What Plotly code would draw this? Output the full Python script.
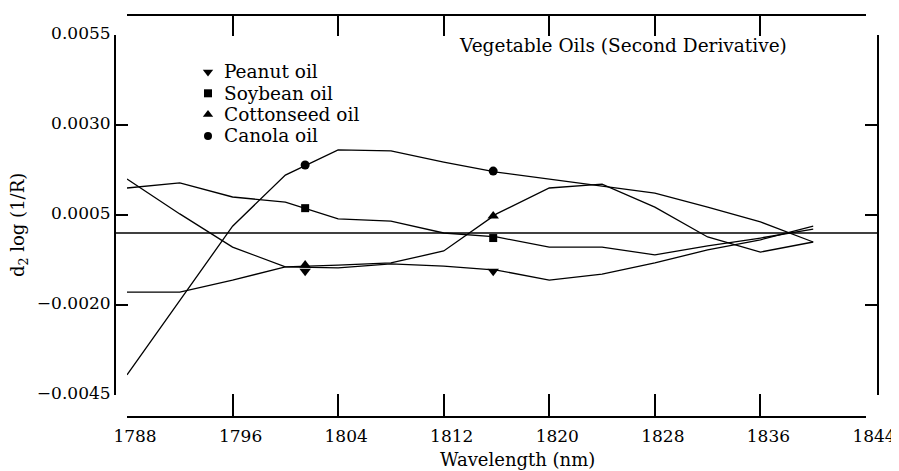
import plotly.graph_objects as go

# ---- data ----
wavelength = [1788, 1792, 1796, 1800, 1804, 1808, 1812, 1816, 1820, 1824, 1828, 1832, 1836, 1840]
peanut     = [0.00150, 0.00053, -0.00039, -0.00094, -0.00097, -0.00086, -0.00092, -0.00103, -0.00131, -0.00114, -0.00083, -0.00047, -0.00019, 0.00019]
soybean    = [0.00125, 0.00139, 0.00100, 0.00086, 0.00039, 0.00033, 0.00000, -0.00011, -0.00039, -0.00039, -0.00061, -0.00036, -0.00014, 0.00011]
cottonseed = [-0.00164, -0.00164, -0.00131, -0.00094, -0.00089, -0.00083, -0.00050, 0.00053, 0.00125, 0.00136, 0.00072, -0.00011, -0.00053, -0.00025]
canola     = [-0.00394, -0.00186, 0.00019, 0.00161, 0.00231, 0.00228, 0.00197, 0.00169, 0.00150, 0.00131, 0.00111, 0.00072, 0.00031, -0.00025]

marker_wl        = [1801.5, 1815.75]
peanut_marks     = [-0.00106, -0.00106]
soybean_marks    = [0.00069, -0.00014]
cottonseed_marks = [-0.00089, 0.00047]
canola_marks     = [0.00189, 0.00172]

legend_names   = ["Peanut oil", "Soybean oil", "Cottonseed oil", "Canola oil"]
legend_symbols = ["triangle-down", "square", "triangle-up", "circle"]

x_ticks = [1788, 1796, 1804, 1812, 1820, 1828, 1836, 1844]
y_ticks = [-0.0045, -0.0020, 0.0005, 0.0030, 0.0055]
y_tick_text = ["\u22120.0045", "\u22120.0020", "0.0005", "0.0030", "0.0055"]

title_text = "Vegetable Oils (Second Derivative)"
x_title = "Wavelength (nm)"
y_title = "d<sub>2</sub> log (1/R)"

# ---- layout geometry (screen pixels; page body adds an 8px offset) ----
OFF = 8
W, H = 899 - OFF, 471 - OFF
PL, PR, PT, PB = 115, 878, 15, 417          # paper box (screen px)
XL, XR = 127, 866                           # x-axis span
YT, YB = 35, 395                            # y-axis span
pw, ph = PR - PL, PB - PT
fx = lambda p: (p - PL) / pw
fy = lambda p: (PB - p) / ph

SERIF = "'DejaVu Serif', 'Liberation Serif', serif"
xr = [1788 - 1e-6, 1844 + 1e-6]
yr = [-0.0045 - 1e-9, 0.0055 + 1e-9]

fig = go.Figure()
line_style = dict(color="black", width=1.3)
series = [("Peanut oil", peanut, peanut_marks, "triangle-down", 10),
          ("Soybean oil", soybean, soybean_marks, "square", 8),
          ("Cottonseed oil", cottonseed, cottonseed_marks, "triangle-up", 10),
          ("Canola oil", canola, canola_marks, "circle", 9)]
for name, vals, marks, sym, sz in series:
    fig.add_trace(go.Scatter(x=wavelength, y=vals, mode="lines", line=line_style,
                             showlegend=False, hoverinfo="skip"))
    fig.add_trace(go.Scatter(x=marker_wl, y=marks, mode="markers",
                             marker=dict(symbol=sym, size=sz, color="black"),
                             showlegend=False, name=name))

# empty trace so the mirrored (top / right) frame axes get drawn
fig.add_trace(go.Scatter(x=[None], y=[None], xaxis="x2", yaxis="y2",
                         showlegend=False, hoverinfo="skip"))

# custom legend on an overlay paper-like axis
leg_x_marker = fx(208)
leg_x_text = fx(222)
leg_y0, leg_dy = 72, 21.3
sizes = {"triangle-down": 9, "square": 8, "triangle-up": 9, "circle": 8}
for i, (nm, sym) in enumerate(zip(legend_names, legend_symbols)):
    yy = fy(leg_y0 + i * leg_dy)
    fig.add_trace(go.Scatter(x=[leg_x_marker], y=[yy], mode="markers",
                             marker=dict(symbol=sym, size=sizes[sym], color="black"),
                             xaxis="x3", yaxis="y3", showlegend=False, hoverinfo="skip"))
    fig.add_annotation(x=leg_x_text, y=yy, xref="paper", yref="paper", text=nm,
                       showarrow=False, xanchor="left", yanchor="middle",
                       font=dict(family=SERIF, size=18.5, color="black"))

fig.add_annotation(x=fx(457), y=fy(45), xref="paper", yref="paper", text=title_text,
                   showarrow=False, xanchor="left", yanchor="middle",
                   font=dict(family=SERIF, size=18.5, color="black"))
fig.add_annotation(x=fx(518), y=fy(459), xref="paper", yref="paper", text=x_title,
                   showarrow=False, xanchor="center", yanchor="middle",
                   font=dict(family=SERIF, size=18, color="black"))
fig.add_annotation(x=fx(19), y=fy(225), xref="paper", yref="paper", text=y_title,
                   showarrow=False, xanchor="center", yanchor="middle", textangle=-90,
                   font=dict(family=SERIF, size=18, color="black"))

# zero line across the full frame
fig.add_shape(type="line", xref="paper", yref="y", x0=0, x1=1, y0=0, y1=0,
              line=dict(color="black", width=1.5))

axis_common = dict(showgrid=False, zeroline=False, showline=True, linecolor="black",
                   linewidth=2, ticks="inside", tickcolor="black", tickwidth=1.6)
xdom = [fx(XL), fx(XR)]
ydom = [fy(YB), fy(YT)]

fig.update_layout(
    width=W, height=H,
    margin=dict(l=PL - OFF, r=W - (PR - OFF), t=PT - OFF, b=H - (PB - OFF), autoexpand=False),
    paper_bgcolor="white", plot_bgcolor="rgba(0,0,0,0)",
    showlegend=False,
    font=dict(family=SERIF, color="black"),
    xaxis=dict(domain=xdom, range=xr, anchor="free", position=0,
               tickmode="array", tickvals=x_ticks, ticklen=22,
               ticklabelshift=8, ticklabelstandoff=4,
               tickfont=dict(family=SERIF, size=17, color="black"), **axis_common),
    xaxis2=dict(domain=xdom, range=xr, anchor="free", position=1, overlaying="x",
                side="top", tickmode="array", tickvals=x_ticks, ticklen=20,
                showticklabels=False, **axis_common),
    yaxis=dict(domain=ydom, range=yr, anchor="free", position=0,
               tickmode="array", tickvals=y_ticks, ticktext=y_tick_text, ticklen=12,
               ticklabelshift=-2,
               tickfont=dict(family=SERIF, size=17, color="black"), **axis_common),
    yaxis2=dict(domain=ydom, range=yr, anchor="free", position=1, overlaying="y",
                side="right", tickmode="array", tickvals=y_ticks, ticklen=12,
                showticklabels=False, **axis_common),
    xaxis3=dict(domain=[0, 1], range=[0, 1], visible=False, anchor="y3", fixedrange=True),
    yaxis3=dict(domain=[0, 1], range=[0, 1], visible=False, anchor="x3", fixedrange=True),
)

fig.write_html("out.html")
